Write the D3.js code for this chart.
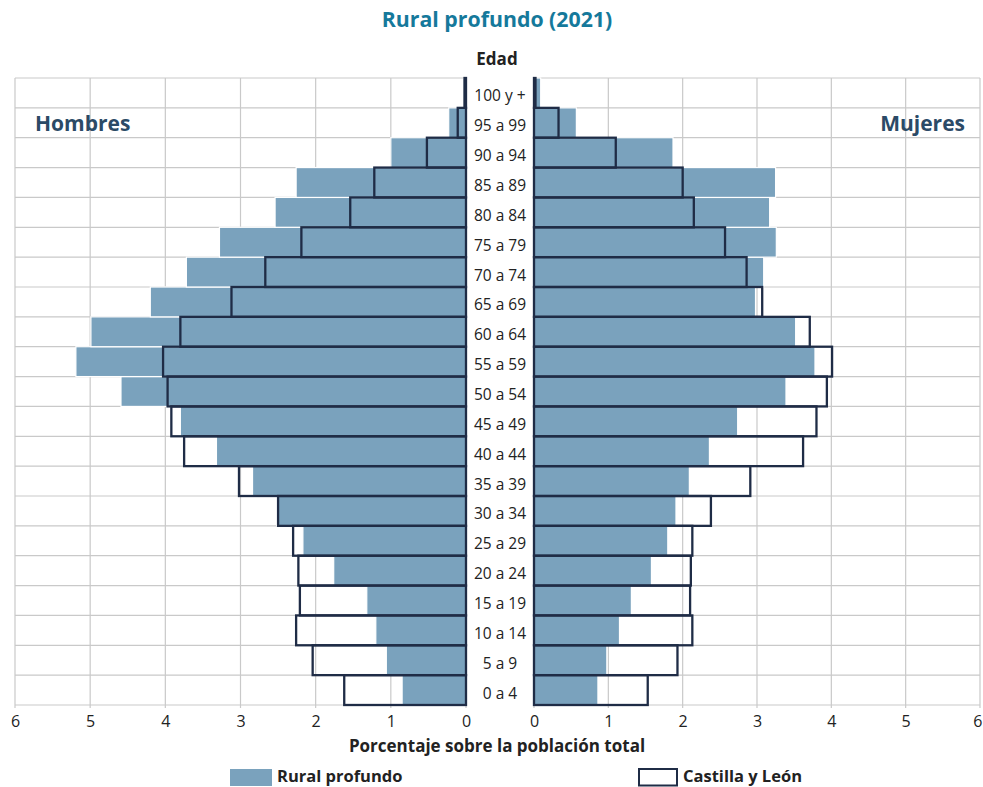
<!DOCTYPE html>
<html><head><meta charset="utf-8">
<script src="https://cdn.jsdelivr.net/npm/d3@7"></script>
<style>
body{margin:0;background:#fff;}
svg{display:block;}
</style></head>
<body>
<svg id="chart" width="983" height="787"></svg>
<script>
const ages = ["0 a 4","5 a 9","10 a 14","15 a 19","20 a 24","25 a 29","30 a 34","35 a 39","40 a 44","45 a 49","50 a 54","55 a 59","60 a 64","65 a 69","70 a 74","75 a 79","80 a 84","85 a 89","90 a 94","95 a 99","100 y +"];
const ruralHombres = [0.85,1.06,1.20,1.32,1.76,2.17,2.52,2.84,3.32,3.80,4.59,5.19,4.99,4.20,3.72,3.28,2.54,2.26,1.00,0.23,0.03];
const cylHombres   = [1.62,2.04,2.26,2.21,2.23,2.30,2.50,3.02,3.75,3.92,3.97,4.03,3.80,3.12,2.67,2.19,1.54,1.22,0.52,0.11,0.02];
const ruralMujeres = [0.86,0.98,1.15,1.31,1.58,1.80,1.91,2.09,2.36,2.74,3.39,3.78,3.52,2.98,3.09,3.26,3.17,3.25,1.87,0.57,0.09];
const cylMujeres   = [1.53,1.93,2.13,2.10,2.11,2.13,2.38,2.91,3.62,3.80,3.94,4.01,3.71,3.07,2.86,2.57,2.15,2.00,1.10,0.33,0.02];
const xTicks = [0,1,2,3,4,5,6];

const svg = d3.select("#chart");
const fillColor = "#7aa2bd", lineColor = "#1f2c46", gridColor = "#c9c9c9";
const sans = "'Open Sans','Noto Sans',sans-serif";

const xL = d3.scaleLinear().domain([0,6]).range([466,15]);
const xR = d3.scaleLinear().domain([0,6]).range([534,980]);
const y = d3.scaleBand().domain(ages.slice().reverse()).range([78,705]).padding(0);

const data = ages.map((a,i)=>({age:a, rh:ruralHombres[i], ch:cylHombres[i], rm:ruralMujeres[i], cm:cylMujeres[i]}));

// grids
function grid(x, x0, x1){
  const g = svg.append("g");
  g.selectAll("line.v").data(xTicks).join("line")
    .attr("x1",d=>x(d)).attr("x2",d=>x(d)).attr("y1",78).attr("y2",708)
    .attr("stroke",gridColor).attr("stroke-width",1.2);
  const hs = ages.map(a=>y(a)).concat([705]);
  g.selectAll("line.h").data(hs).join("line")
    .attr("x1",x0).attr("x2",x1).attr("y1",d=>d).attr("y2",d=>d)
    .attr("stroke",gridColor).attr("stroke-width",1.2);
}
grid(xL, 15, 466);
grid(xR, 534, 980);

// fill bars
svg.append("g").selectAll("rect").data(data).join("rect")
  .attr("x",d=>xL(d.rh)).attr("width",d=>xL(0)-xL(d.rh))
  .attr("y",d=>y(d.age)).attr("height",y.bandwidth())
  .attr("fill",fillColor).attr("stroke","#fff").attr("stroke-width",1.2);
svg.append("g").selectAll("rect").data(data).join("rect")
  .attr("x",xR(0)).attr("width",d=>xR(d.rm)-xR(0))
  .attr("y",d=>y(d.age)).attr("height",y.bandwidth())
  .attr("fill",fillColor).attr("stroke","#fff").attr("stroke-width",1.2);

// outline bars
svg.append("g").selectAll("rect").data(data).join("rect")
  .attr("x",d=>xL(d.ch)).attr("width",d=>xL(0)-xL(d.ch))
  .attr("y",d=>y(d.age)).attr("height",y.bandwidth())
  .attr("fill","none").attr("stroke",lineColor).attr("stroke-width",2.3);
svg.append("g").selectAll("rect").data(data).join("rect")
  .attr("x",xR(0)).attr("width",d=>xR(d.cm)-xR(0))
  .attr("y",d=>y(d.age)).attr("height",y.bandwidth())
  .attr("fill","none").attr("stroke",lineColor).attr("stroke-width",2.3);

// age labels
svg.append("g").selectAll("text").data(ages).join("text")
  .attr("x",500).attr("y",d=>y(d)+y.bandwidth()/2+8.5)
  .attr("text-anchor","middle").attr("font-family",sans).attr("font-size",15.5)
  .attr("fill","#222").text(d=>d);

// axes
function axis(x, right){
  const g = svg.append("g").attr("transform","translate(0,707)")
    .call(d3.axisBottom(x).tickValues(xTicks).tickSize(0).tickPadding(9).tickFormat(d3.format("d")));
  g.select(".domain").remove();
  g.selectAll("text").attr("font-family",sans).attr("font-size",16).attr("fill","#222");
  if(right){
    g.selectAll(".tick").filter(d=>d===6).select("text").attr("text-anchor","end").attr("x",2);
  }
}
axis(xL,false); axis(xR,true);

// titles
svg.append("text").attr("x",497).attr("y",27).attr("text-anchor","middle")
  .attr("font-family",sans).attr("font-weight","bold").attr("font-size",21.3)
  .attr("fill","#15799b").text("Rural profundo (2021)");
svg.append("text").attr("x",497).attr("y",65).attr("text-anchor","middle")
  .attr("font-family",sans).attr("font-weight","bold").attr("font-size",17)
  .attr("fill","#222").text("Edad");
svg.append("text").attr("x",35).attr("y",131)
  .attr("font-family",sans).attr("font-weight","bold").attr("font-size",21)
  .attr("fill","#2b4a66").text("Hombres");
svg.append("text").attr("x",965).attr("y",131).attr("text-anchor","end")
  .attr("font-family",sans).attr("font-weight","bold").attr("font-size",21)
  .attr("fill","#2b4a66").text("Mujeres");
svg.append("text").attr("x",497).attr("y",752).attr("text-anchor","middle")
  .attr("font-family",sans).attr("font-weight","bold").attr("font-size",17)
  .attr("fill","#222").text("Porcentaje sobre la población total");

// legend
svg.append("rect").attr("x",230).attr("y",769).attr("width",42).attr("height",17).attr("fill",fillColor);
svg.append("text").attr("x",277).attr("y",782).attr("font-family",sans).attr("font-weight","bold")
  .attr("font-size",16.5).attr("fill","#222").text("Rural profundo");
svg.append("rect").attr("x",639).attr("y",769).attr("width",38).attr("height",16.5).attr("fill","#fff")
  .attr("stroke",lineColor).attr("stroke-width",2);
svg.append("text").attr("x",683).attr("y",782).attr("font-family",sans).attr("font-weight","bold")
  .attr("font-size",16.5).attr("fill","#222").text("Castilla y León");
</script>
</body></html>
